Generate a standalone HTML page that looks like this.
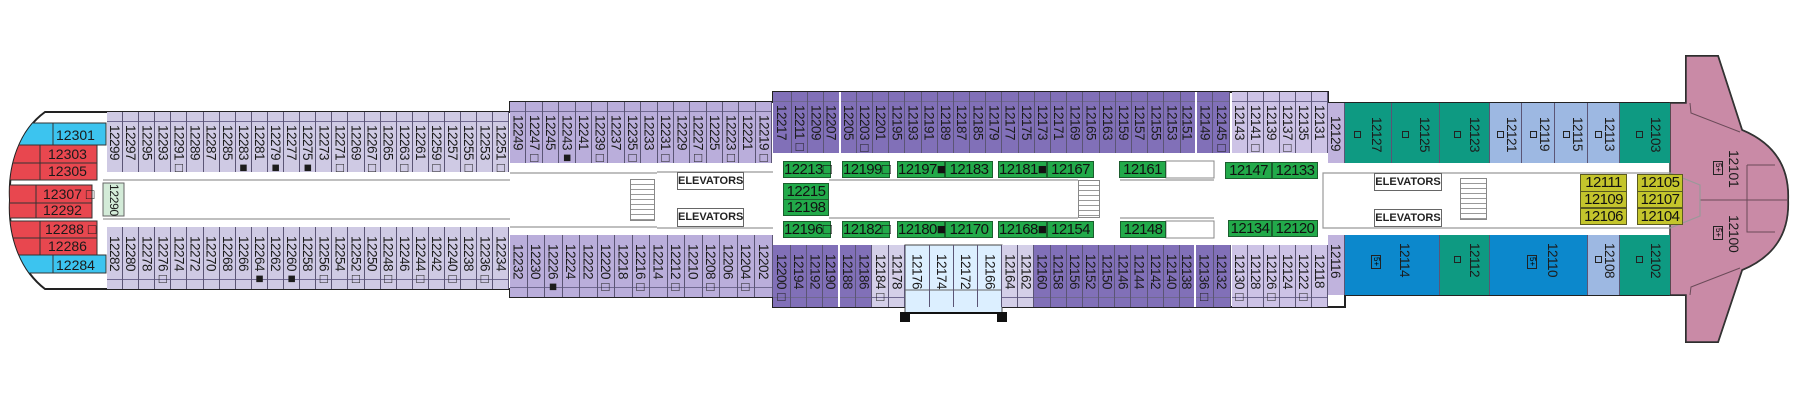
<!DOCTYPE html>
<html><head><meta charset="utf-8">
<style>
html,body{margin:0;padding:0;background:#fff;}
#w{position:relative;width:1800px;height:400px;overflow:hidden;font-family:"Liberation Sans Narrow","Liberation Sans",sans-serif;}
svg{position:absolute;left:0;top:0;}
.row{position:absolute;display:flex;}
.row>div{box-sizing:border-box;border-right:1px solid #5b5575;writing-mode:vertical-rl;font-size:13.5px;color:#1c1c1c;white-space:nowrap;overflow:hidden;letter-spacing:-0.5px;}
.t>div{padding-top:13px;}
.b>div{padding-top:9px;}
.lt>div{background:#cfcae4;}
.lm>div{background:#baaedb;}
.dp>div{background:#8170b8;}
.lt2>div{background:#cdc3e6;}
.t.lt>div,.t.lm>div,.t.dp>div,.t.lt2>div{background-image:linear-gradient(to bottom,transparent 9px,#6f6890 9px,#6f6890 10px,transparent 10px);}
.b.lt>div,.b.lm>div,.b.dp>div,.b.lt2>div{background-image:linear-gradient(to top,transparent 9px,#6f6890 9px,#6f6890 10px,transparent 10px);}
.a{position:absolute;box-sizing:border-box;}
.v{writing-mode:vertical-rl;font-size:13px;color:#1c1c1c;letter-spacing:-0.3px;}
.g{position:absolute;box-sizing:border-box;background:#22aa4a;border:1px solid #1b5e2e;font-size:15px;color:#111;line-height:15px;text-align:center;letter-spacing:-0.6px;}
.y{position:absolute;box-sizing:border-box;background:#c4c52c;border:1px solid #5a5a20;font-size:15px;color:#111;line-height:15px;text-align:center;letter-spacing:-0.6px;}
.el{position:absolute;box-sizing:border-box;background:#fff;border:1px solid #666;font-size:11px;font-weight:bold;color:#222;text-align:center;line-height:16px;}
.sq{position:absolute;width:7px;height:7px;border:1px solid #222;box-sizing:border-box;}
.fp{position:absolute;width:10px;height:14px;border:1px solid #222;box-sizing:border-box;font-size:8px;writing-mode:vertical-rl;line-height:8px;text-align:center;}
.st{position:absolute;box-sizing:border-box;border:1px solid #888;background:repeating-linear-gradient(to bottom,#fff 0 4px,#999 4px 5px);}
</style></head><body><div id="w">
<svg width="1800" height="400">
<defs><clipPath id="hull"><path d="M45 112 L510 112 L510 289 L45 289 C20 270 8 235 10 200 C8 165 20 130 45 112 Z"/></clipPath></defs>
<path d="M45 112 L510 112 L510 102 L773 102 L773 92 L1328 92 L1328 103 L1686 103 L1686 56 L1718 56 L1742 130 Q1790 150 1788 200 Q1790 250 1742 270 L1718 342 L1686 342 L1686 295 L1345 295 L1345 307 L773 307 L773 297 L510 297 L510 289 L45 289 C20 270 8 235 10 200 C8 165 20 130 45 112 Z" fill="#fff" stroke="#222" stroke-width="2"/>
<path d="M1670 103 L1686 103 L1686 56 L1718 56 L1742 130 Q1790 150 1788 200 Q1790 250 1742 270 L1718 342 L1686 342 L1686 295 L1670 295 Z" fill="#c98aa6" stroke="#333" stroke-width="1.5"/>
<path d="M1690 103 L1691 113 L1740 132 M1690 295 L1691 287 L1740 268 M1700 200 L1788 200 M1747 165 L1747 232 L1775 232 M1747 165 L1775 165" fill="none" stroke="#6a4a58" stroke-width="1"/>
<g clip-path="url(#hull)">
<rect x="0" y="123" width="106" height="22" fill="#3cc4ef" stroke="#333"/>
<rect x="0" y="145" width="97" height="18" fill="#e8474f" stroke="#333"/>
<rect x="0" y="163" width="97" height="17" fill="#e8474f" stroke="#333"/>
<rect x="0" y="185" width="92" height="18" fill="#e8474f" stroke="#333"/>
<rect x="0" y="203" width="92" height="15" fill="#e8474f" stroke="#333"/>
<rect x="0" y="221" width="97" height="17" fill="#e8474f" stroke="#333"/>
<rect x="0" y="238" width="97" height="17" fill="#e8474f" stroke="#333"/>
<rect x="0" y="255" width="106" height="18" fill="#3cc4ef" stroke="#333"/>
<path d="M53 123 V145 M40 145 V180 M36 185 V218 M40 221 V255 M53 255 V273" stroke="#333"/>
</g>
<g font-family="Liberation Sans Narrow, Liberation Sans, sans-serif" font-size="14" fill="#1a1a1a">
<text x="56" y="140">12301</text><text x="48" y="159">12303</text><text x="48" y="176">12305</text>
<text x="43" y="199">12307 □</text><text x="43" y="215">12292</text><text x="45" y="234">12288 □</text>
<text x="48" y="251">12286</text><text x="56" y="270">12284</text>
</g>
<rect x="103" y="183" width="21" height="33" fill="#d3ebd8" stroke="#666"/>
<path d="M103 180 H510 M103 219 H510 M510 173 H657 M510 227 H657 M657 172 H773 M657 228 H773 M829 180 H1078 M829 218 H1078 M1120 180 H1214 M1120 218 H1214 M1323 173 H1670 L1700 185 V216 L1670 228 H1323 Z" fill="none" stroke="#999" stroke-width="1.2"/>
<rect x="1166" y="161" width="48" height="17" fill="#fff" stroke="#888"/>
<rect x="1166" y="221" width="48" height="17" fill="#fff" stroke="#888"/>
<rect x="905" y="245" width="97" height="68" fill="#dcefff" stroke="#444"/>
<path d="M905 290 H1002" stroke="#666"/>
<rect x="900" y="312" width="10" height="10" fill="#111"/><rect x="997" y="312" width="10" height="10" fill="#111"/>
<path d="M905 313 H1002" stroke="#111" stroke-width="2"/>
</svg>
<div class="a v" style="left:104px;top:184px;width:19px;line-height:19px;font-size:12px;">12290</div>

<div class="row t lt" style="left:107px;top:112px;height:60px;">
<div style="width:16.1px;line-height:16px">12299</div><div style="width:16.1px;line-height:16px">12297</div><div style="width:16.1px;line-height:16px">12295</div><div style="width:16.1px;line-height:16px">12293</div><div style="width:16.1px;line-height:16px">12291□</div><div style="width:16.1px;line-height:16px">12289</div><div style="width:16.1px;line-height:16px">12287</div><div style="width:16.1px;line-height:16px">12285</div><div style="width:16.1px;line-height:16px">12283■</div><div style="width:16.1px;line-height:16px">12281</div><div style="width:16.1px;line-height:16px">12279■</div><div style="width:16.1px;line-height:16px">12277</div><div style="width:16.1px;line-height:16px">12275■</div><div style="width:16.1px;line-height:16px">12273</div><div style="width:16.1px;line-height:16px">12271□</div><div style="width:16.1px;line-height:16px">12269</div><div style="width:16.1px;line-height:16px">12267□</div><div style="width:16.1px;line-height:16px">12265</div><div style="width:16.1px;line-height:16px">12263□</div><div style="width:16.1px;line-height:16px">12261</div><div style="width:16.1px;line-height:16px">12259□</div><div style="width:16.1px;line-height:16px">12257</div><div style="width:16.1px;line-height:16px">12255□</div><div style="width:16.1px;line-height:16px">12253</div><div style="width:16.1px;line-height:16px">12251□</div>
</div>
<div class="row t lm" style="left:510px;top:102px;height:61px;">
<div style="width:16.4px;line-height:16px">12249</div><div style="width:16.4px;line-height:16px">12247□</div><div style="width:16.4px;line-height:16px">12245</div><div style="width:16.4px;line-height:16px">12243■</div><div style="width:16.4px;line-height:16px">12241</div><div style="width:16.4px;line-height:16px">12239□</div><div style="width:16.4px;line-height:16px">12237</div><div style="width:16.4px;line-height:16px">12235□</div><div style="width:16.4px;line-height:16px">12233</div><div style="width:16.4px;line-height:16px">12231□</div><div style="width:16.4px;line-height:16px">12229</div><div style="width:16.4px;line-height:16px">12227□</div><div style="width:16.4px;line-height:16px">12225</div><div style="width:16.4px;line-height:16px">12223□</div><div style="width:16.4px;line-height:16px">12221</div><div style="width:16.4px;line-height:16px">12219□</div>
</div>
<div class="row t dp" style="left:773px;top:92px;height:61px;">
<div style="width:19px;line-height:19px">12217</div><div style="width:16.2px;line-height:16px">12211□</div><div style="width:16.2px;line-height:16px">12209</div><div style="width:16.2px;line-height:16px;border-right:2px solid #fff">12207</div><div style="width:16.2px;line-height:16px">12205</div><div style="width:16.2px;line-height:16px">12203□</div><div style="width:16.2px;line-height:16px">12201</div><div style="width:16.2px;line-height:16px">12195</div><div style="width:16.2px;line-height:16px">12193</div><div style="width:16.2px;line-height:16px">12191</div><div style="width:16.2px;line-height:16px">12189</div><div style="width:16.2px;line-height:16px">12187</div><div style="width:16.2px;line-height:16px">12185</div><div style="width:16.2px;line-height:16px">12179</div><div style="width:16.2px;line-height:16px">12177</div><div style="width:16.2px;line-height:16px">12175</div><div style="width:16.2px;line-height:16px">12173</div><div style="width:16.2px;line-height:16px">12171</div><div style="width:16.2px;line-height:16px">12169</div><div style="width:16.2px;line-height:16px">12165</div><div style="width:16.2px;line-height:16px">12163</div><div style="width:16.2px;line-height:16px">12159</div><div style="width:16.2px;line-height:16px">12157</div><div style="width:16.2px;line-height:16px">12155</div><div style="width:16.2px;line-height:16px">12153</div><div style="width:16.2px;line-height:16px;border-right:2px solid #fff">12151</div><div style="width:16.7px;line-height:16px">12149</div><div style="width:16.7px;line-height:16px">12145□</div>
</div>
<div class="row t lt2" style="left:1232px;top:92px;height:61px;">
<div style="width:16px;line-height:16px">12143</div><div style="width:16px;line-height:16px">12141□</div><div style="width:16px;line-height:16px">12139</div><div style="width:16px;line-height:16px">12137□</div><div style="width:16px;line-height:16px">12135</div><div style="width:16px;line-height:16px">12131</div>
</div>
<div class="row t" style="left:1328px;top:103px;height:60px;">
<div style="width:17px;line-height:17px;background:#c0b3dd;">12129</div>
<div style="width:47px;line-height:30px;background:#0e9a82;padding-top:14px;">12127</div>
<div style="width:48px;line-height:30px;background:#0e9a82;padding-top:14px">12125</div>
<div style="width:50px;line-height:30px;background:#0e9a82;padding-top:14px">12123</div>
<div style="width:32px;line-height:20px;background:#9db8e2;padding-top:14px">12121</div>
<div style="width:33px;line-height:20px;background:#9db8e2;padding-top:14px">12119</div>
<div style="width:33px;line-height:20px;background:#9db8e2;padding-top:14px">12115</div>
<div style="width:32px;line-height:20px;background:#9db8e2;padding-top:14px">12113</div>
<div style="width:50px;line-height:30px;background:#0e9a82;padding-top:14px;border-right:none">12103</div>
</div>

<div class="row b lt" style="left:107px;top:227px;height:62px;">
<div style="width:16.1px;line-height:16px">12282</div><div style="width:16.1px;line-height:16px">12280</div><div style="width:16.1px;line-height:16px">12278</div><div style="width:16.1px;line-height:16px">12276□</div><div style="width:16.1px;line-height:16px">12274</div><div style="width:16.1px;line-height:16px">12272</div><div style="width:16.1px;line-height:16px">12270</div><div style="width:16.1px;line-height:16px">12268</div><div style="width:16.1px;line-height:16px">12266</div><div style="width:16.1px;line-height:16px">12264■</div><div style="width:16.1px;line-height:16px">12262</div><div style="width:16.1px;line-height:16px">12260■</div><div style="width:16.1px;line-height:16px">12258</div><div style="width:16.1px;line-height:16px">12256□</div><div style="width:16.1px;line-height:16px">12254</div><div style="width:16.1px;line-height:16px">12252□</div><div style="width:16.1px;line-height:16px">12250</div><div style="width:16.1px;line-height:16px">12248□</div><div style="width:16.1px;line-height:16px">12246</div><div style="width:16.1px;line-height:16px">12244□</div><div style="width:16.1px;line-height:16px">12242</div><div style="width:16.1px;line-height:16px">12240□</div><div style="width:16.1px;line-height:16px">12238</div><div style="width:16.1px;line-height:16px">12236□</div><div style="width:16.1px;line-height:16px">12234</div>
</div>
<div class="row b lm" style="left:510px;top:235px;height:62px;">
<div style="width:17.5px;line-height:17px">12232</div><div style="width:17.5px;line-height:17px">12230</div><div style="width:17.5px;line-height:17px">12226■</div><div style="width:17.5px;line-height:17px">12224</div><div style="width:17.5px;line-height:17px">12222</div><div style="width:17.5px;line-height:17px">12220□</div><div style="width:17.5px;line-height:17px">12218</div><div style="width:17.5px;line-height:17px">12216□</div><div style="width:17.5px;line-height:17px">12214</div><div style="width:17.5px;line-height:17px">12212□</div><div style="width:17.5px;line-height:17px">12210</div><div style="width:17.5px;line-height:17px">12208□</div><div style="width:17.5px;line-height:17px">12206</div><div style="width:17.5px;line-height:17px">12204□</div><div style="width:18px;line-height:17px">12202</div>
</div>
<div class="row b dp" style="left:773px;top:245px;height:62px;">
<div style="width:18px;line-height:18px">12200□</div><div style="width:16.2px;line-height:16px">12194</div><div style="width:16.2px;line-height:16px">12192</div><div style="width:16.6px;line-height:16px;border-right:2px solid #fff">12190</div><div style="width:16.2px;line-height:16px">12188</div><div style="width:16.2px;line-height:16px">12186</div>
<div style="width:16.5px;line-height:16px;background-color:#d4cfe8">12184□</div><div style="width:16.5px;line-height:16px;background-color:#d4cfe8">12178</div>
<div style="width:24.25px;line-height:24px;background:transparent;padding-top:9px">12176</div><div style="width:24.25px;line-height:24px;background:transparent">12174</div><div style="width:24.25px;line-height:24px;background:transparent">12172</div><div style="width:24.25px;line-height:24px;background:transparent">12166</div>
<div style="width:16px;line-height:16px;background-color:#d4cfe8">12164</div><div style="width:16px;line-height:16px;background-color:#d4cfe8">12162</div>
<div style="width:16.2px;line-height:16px">12160</div><div style="width:16.2px;line-height:16px">12158</div><div style="width:16.2px;line-height:16px">12156</div><div style="width:16.2px;line-height:16px">12152</div><div style="width:16.2px;line-height:16px">12150</div><div style="width:16.2px;line-height:16px">12146</div><div style="width:16.2px;line-height:16px">12144</div><div style="width:16.2px;line-height:16px">12142</div><div style="width:16.2px;line-height:16px">12140</div><div style="width:16.2px;line-height:16px;border-right:2px solid #fff">12138</div><div style="width:17.5px;line-height:17px">12136□</div><div style="width:17.5px;line-height:17px">12132</div>
</div>
<div class="row b lt2" style="left:1232px;top:245px;height:62px;">
<div style="width:16px;line-height:16px">12130□</div><div style="width:16px;line-height:16px">12128</div><div style="width:16px;line-height:16px">12126□</div><div style="width:16px;line-height:16px">12124</div><div style="width:16px;line-height:16px">12122□</div><div style="width:16px;line-height:16px">12118</div>
</div>
<div class="row b" style="left:1328px;top:235px;height:60px;">
<div style="width:17px;line-height:17px;background:#c0b3dd;">12116</div>
<div style="width:95px;line-height:70px;background:#0c88cc;padding-top:8px">12114</div>
<div style="width:50px;line-height:30px;background:#0e9a82;padding-top:8px">12112</div>
<div style="width:98px;line-height:70px;background:#0c88cc;padding-top:8px">12110</div>
<div style="width:32px;line-height:20px;background:#9db8e2;padding-top:8px">12108</div>
<div style="width:50px;line-height:30px;background:#0e9a82;padding-top:8px;border-right:none">12102</div>
</div>

<div class="sq" style="left:1354px;top:131px"></div><div class="sq" style="left:1402px;top:131px"></div><div class="sq" style="left:1454px;top:131px"></div><div class="sq" style="left:1497px;top:131px"></div><div class="sq" style="left:1530px;top:131px"></div><div class="sq" style="left:1563px;top:131px"></div><div class="sq" style="left:1595px;top:131px"></div><div class="sq" style="left:1636px;top:131px"></div>
<div class="sq" style="left:1454px;top:256px"></div><div class="sq" style="left:1595px;top:256px"></div><div class="sq" style="left:1636px;top:256px"></div>
<div class="fp" style="left:1371px;top:255px">5+</div><div class="fp" style="left:1527px;top:255px">5+</div>
<div class="fp" style="left:1713px;top:161px">5+</div><div class="fp" style="left:1713px;top:226px">5+</div>
<div class="a v" style="left:1727px;top:150px;line-height:14px;font-size:14px">12101</div>
<div class="a v" style="left:1727px;top:215px;line-height:14px;font-size:14px">12100</div>

<div class="g" style="left:783px;top:161px;width:48px;height:17px">12213□</div>
<div class="g" style="left:842px;top:161px;width:48px;height:17px">12199□</div>
<div class="g" style="left:897px;top:161px;width:48px;height:17px">12197■</div><div class="g" style="left:945px;top:161px;width:48px;height:17px">12183</div>
<div class="g" style="left:998px;top:161px;width:49px;height:17px">12181■</div><div class="g" style="left:1047px;top:161px;width:47px;height:17px">12167</div>
<div class="g" style="left:1119px;top:161px;width:47px;height:17px">12161</div>
<div class="g" style="left:783px;top:183px;width:46px;height:17px">12215</div>
<div class="g" style="left:783px;top:199px;width:46px;height:17px">12198</div>
<div class="g" style="left:783px;top:221px;width:48px;height:17px">12196□</div>
<div class="g" style="left:842px;top:221px;width:48px;height:17px">12182□</div>
<div class="g" style="left:897px;top:221px;width:48px;height:17px">12180■</div><div class="g" style="left:945px;top:221px;width:48px;height:17px">12170</div>
<div class="g" style="left:998px;top:221px;width:49px;height:17px">12168■</div><div class="g" style="left:1047px;top:221px;width:47px;height:17px">12154</div>
<div class="g" style="left:1120px;top:221px;width:46px;height:17px">12148</div>
<div class="g" style="left:1225px;top:162px;width:47px;height:17px">12147</div><div class="g" style="left:1272px;top:162px;width:46px;height:17px">12133</div>
<div class="g" style="left:1228px;top:220px;width:44px;height:17px">12134</div><div class="g" style="left:1272px;top:220px;width:46px;height:17px">12120</div>

<div class="y" style="left:1580px;top:174px;width:47px;height:18px">12111</div>
<div class="y" style="left:1580px;top:191px;width:47px;height:17px">12109</div>
<div class="y" style="left:1580px;top:208px;width:47px;height:17px">12106</div>
<div class="y" style="left:1637px;top:174px;width:46px;height:18px">12105</div>
<div class="y" style="left:1637px;top:191px;width:46px;height:17px">12107</div>
<div class="y" style="left:1637px;top:208px;width:46px;height:17px">12104</div>

<div class="el" style="left:677px;top:172px;width:67px;height:18px">ELEVATORS</div>
<div class="el" style="left:677px;top:208px;width:67px;height:19px">ELEVATORS</div>
<div class="el" style="left:1374px;top:173px;width:68px;height:18px">ELEVATORS</div>
<div class="el" style="left:1374px;top:209px;width:68px;height:18px">ELEVATORS</div>
<div class="st" style="left:630px;top:179px;width:25px;height:42px"></div>
<div class="st" style="left:1078px;top:180px;width:22px;height:38px"></div>
<div class="st" style="left:1460px;top:178px;width:27px;height:42px"></div>
</div></body></html>
